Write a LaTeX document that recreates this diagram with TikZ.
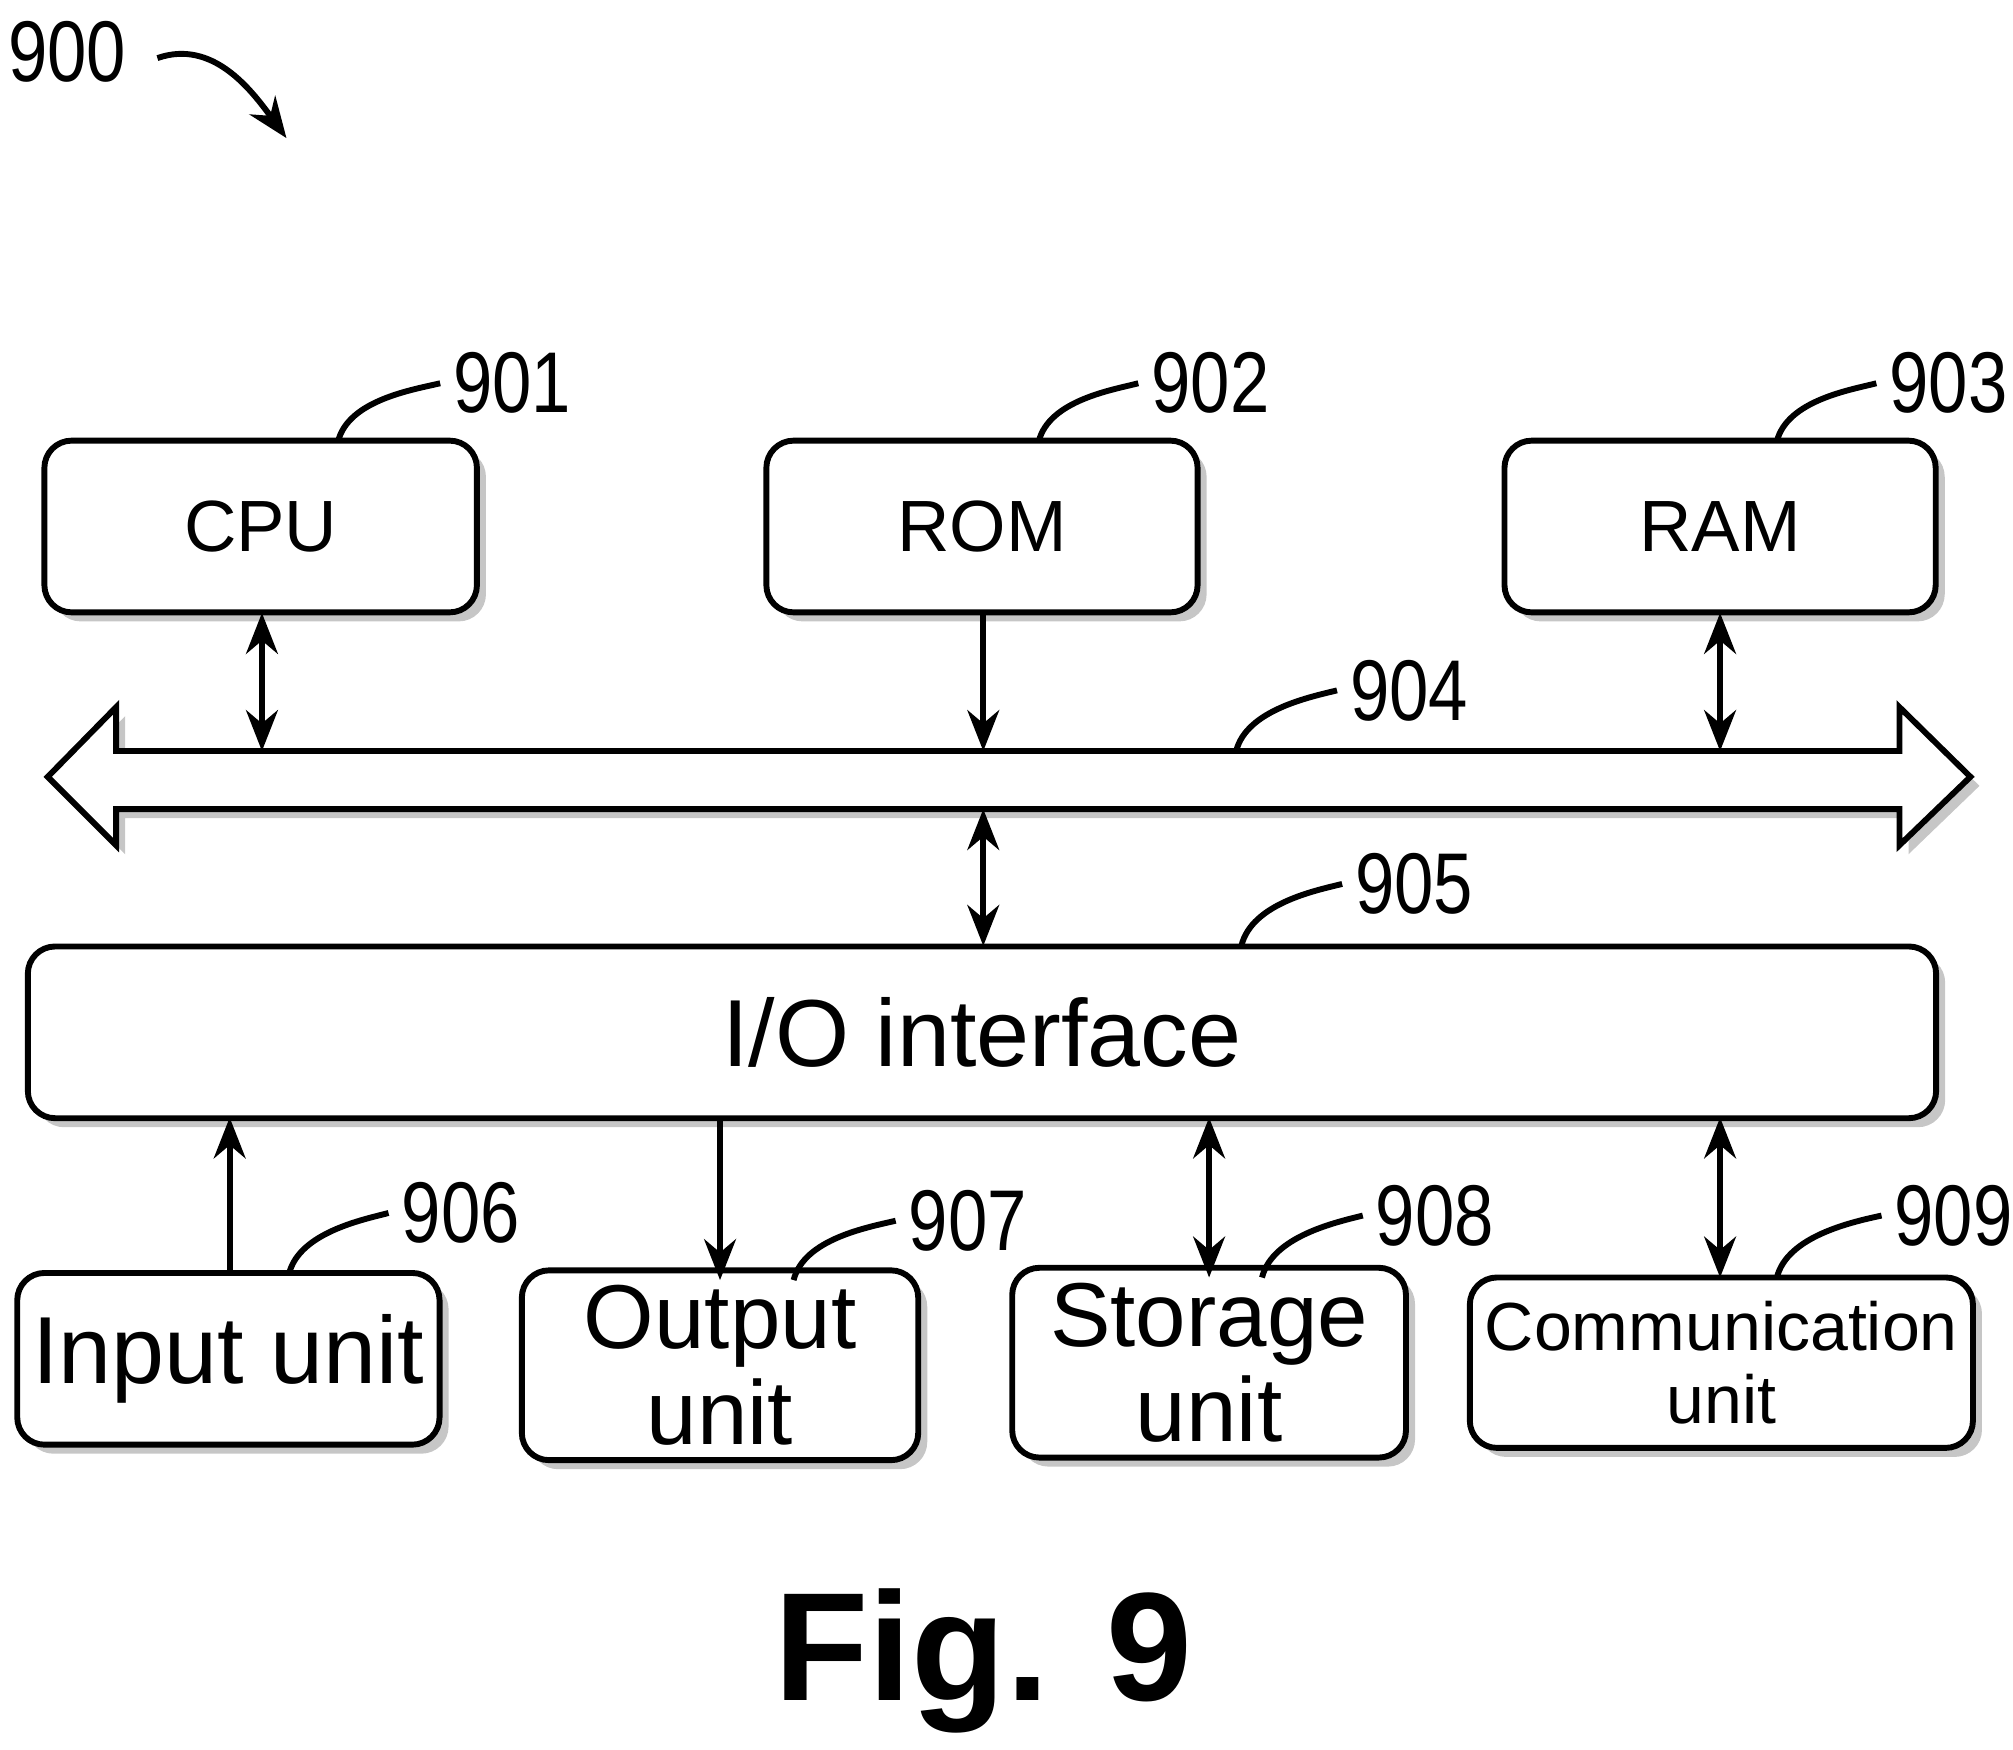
\documentclass[tikz,border=0pt]{standalone}
\usepackage{fontspec}
\setmainfont{Liberation Sans}
\usetikzlibrary{shadows,arrows.meta}
\begin{document}
\begin{tikzpicture}[x=0.01cm,y=-0.01cm,
  box/.style={draw,line width=1.3pt,rounded corners=6pt,fill=white,
    drop shadow={shadow xshift=0.07cm,shadow yshift=-0.07cm,opacity=0.45,fill=gray}},
  lbl/.style={font=\fontsize{19}{19}\selectfont,xscale=0.82,anchor=center},
  lead/.style={line width=1.3pt},
  con/.style={line width=1.3pt,-{Stealth[length=9pt,width=7pt]}},
  dcon/.style={line width=1.3pt,{Stealth[length=9pt,width=7pt]}-{Stealth[length=9pt,width=7pt]}}]
\useasboundingbox (0,0) rectangle (1560,1356);
% 900
\node[lbl] (n900) at (52,40) {900};
\coordinate (a1) at (122,45);
\coordinate (a2) at (222,107);
\draw[con] (a1) .. controls (165,30) and (195,70) .. (a2);
% top boxes
\node[box,minimum width=3.35cm,minimum height=1.33cm,font=\fontsize{16}{16}\selectfont] (cpu) at (202,408) {CPU};
\node[box,minimum width=3.34cm,minimum height=1.33cm,font=\fontsize{16}{16}\selectfont] (rom) at (761,408) {ROM};
\node[box,minimum width=3.34cm,minimum height=1.33cm,font=\fontsize{16}{16}\selectfont] (ram) at (1333,408) {RAM};
\node[lbl] (l901) at (397,297) {901};
\node[lbl] (l902) at (938,297) {902};
\node[lbl] (l903) at (1510,297) {903};
\draw[lead] (262,342) .. controls (270,310) and (320,302) .. (l901.west);
\draw[lead] (805,342) .. controls (813,310) and (863,302) .. (l902.west);
\draw[lead] (1377,342) .. controls (1385,310) and (1435,302) .. (l903.west);
% bus
\draw[line width=1.3pt,fill=white,drop shadow={shadow xshift=0.07cm,shadow yshift=-0.07cm,opacity=0.45,fill=gray}]
 (90,582) -- (1472,582) -- (1472,548) -- (1527,602) -- (1472,655) -- (1472,627) -- (90,627) -- (90,655) -- (37,602) -- (90,548) -- cycle;
\coordinate (b1) at (203,582);
\coordinate (b2) at (762,582);
\coordinate (b3) at (1333,582);
\coordinate (b4) at (762,627);
\node[lbl] (l904) at (1092,535) {904};
\draw[lead] (958,582) .. controls (966,550) and (1016,540) .. (l904.west);
\draw[dcon] (203,475) -- (b1);
\draw[con] (762,475) -- (b2);
\draw[dcon] (1333,475) -- (b3);
% IO
\node[box,minimum width=14.78cm,minimum height=1.33cm,font=\fontsize{21}{21}\selectfont] (io) at (761,800) {I/O interface};
\draw[dcon] (b4) -- (762,733);
\node[lbl] (l905) at (1096,685) {905};
\draw[lead] (962,733) .. controls (970,700) and (1020,690) .. (l905.west);
% bottom boxes
\node[box,minimum width=3.1cm,minimum height=1.33cm,font=\fontsize{21}{21}\selectfont] (in) at (177,1053) {Input unit};
\node[box,minimum width=3.07cm,minimum height=1.33cm,align=center,font=\fontsize{20}{21}\selectfont] (out) at (558,1058) {Output\\unit};
\node[box,minimum width=3.05cm,minimum height=1.32cm,align=center,font=\fontsize{20}{21}\selectfont] (sto) at (937,1056) {Storage\\unit};
\node[box,minimum width=3.22cm,minimum height=1.32cm,align=center,font=\fontsize{15}{16}\selectfont] (com) at (1334,1056) {Communication\\unit};
\node[lbl] (l906) at (357,940) {906};
\node[lbl] (l907) at (750,946) {907};
\node[lbl] (l908) at (1112,942) {908};
\node[lbl] (l909) at (1514,942) {909};
\draw[lead] (224,987) .. controls (232,955) and (282,945) .. (l906.west);
\draw[lead] (615,992) .. controls (623,960) and (673,951) .. (l907.west);
\draw[lead] (978,990) .. controls (986,958) and (1036,947) .. (l908.west);
\draw[lead] (1377,990) .. controls (1385,958) and (1435,947) .. (l909.west);
\draw[con] (178,987) -- (178,866);
\draw[con] (558,866) -- (558,992);
\draw[dcon] (937,866) -- (937,990);
\draw[dcon] (1333,866) -- (1333,990);
\node[font=\bfseries\fontsize{34}{34}\selectfont] (fig) at (762,1287) {Fig. 9};
\end{tikzpicture}
\end{document}
